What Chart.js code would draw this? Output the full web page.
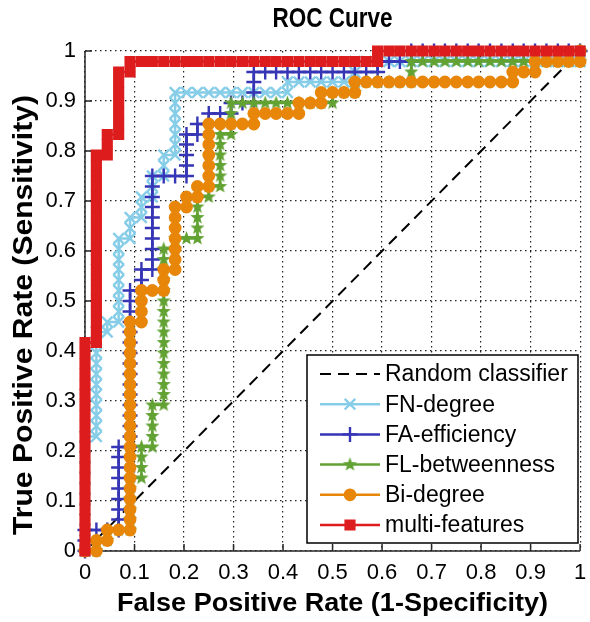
<!DOCTYPE html>
<html>
<head>
<meta charset="utf-8">
<title>ROC Curve</title>
<script src="https://cdn.jsdelivr.net/npm/chart.js@4.4.1/dist/chart.umd.min.js"></script>
<style>
  html, body { margin: 0; padding: 0; background: #fff; }
  #wrap { width: 590px; height: 622px; }
</style>
</head>
<body>
<div id="wrap"><canvas id="rocChart" width="590" height="622"></canvas></div>
<script>
// Values: [false positive rate, true positive rate]
const seriesNames = ['Random classifier', 'FN-degree', 'FA-efficiency', 'FL-betweenness', 'Bi-degree', 'multi-features'];
const tickValues = [0, 0.1, 0.2, 0.3, 0.4, 0.5, 0.6, 0.7, 0.8, 0.9, 1];
const tickLabels = ['0', '0.1', '0.2', '0.3', '0.4', '0.5', '0.6', '0.7', '0.8', '0.9', '1'];

const randomClassifier = [[0, 0], [1, 1]];

const fnDegree = [
    [0,0],[0,.021],[0,.042],[0,.063],[0,.083],[0,.104],[0,.125],[0,.146],[0,.167],[0,.188],[0,.208],[0,.229],
    [.023,.229],[.023,.25],[.023,.271],[.023,.292],[.023,.313],[.023,.333],[.023,.354],[.023,.375],[.023,.396],[.023,.417],[.023,.438],
    [.045,.438],[.045,.458],
    [.068,.458],[.068,.479],[.068,.5],[.068,.521],[.068,.542],[.068,.563],[.068,.583],[.068,.604],[.068,.625],
    [.091,.625],[.091,.646],[.091,.667],
    [.114,.667],[.114,.688],[.114,.708],
    [.136,.708],[.136,.729],[.136,.75],
    [.159,.75],[.159,.771],[.159,.792],
    [.182,.792],[.182,.813],[.182,.833],[.182,.854],[.182,.875],[.182,.896],[.182,.917],
    [.205,.917],[.227,.917],[.25,.917],[.273,.917],[.295,.917],[.318,.917],[.341,.917],[.364,.917],[.386,.917],[.409,.917],
    [.409,.938],[.432,.938],[.455,.938],[.477,.938],[.5,.938],[.523,.938],[.545,.938],
    [.545,.958],[.545,.979],[.568,.979],[.591,.979],[.614,.979],[.636,.979],[.659,.979],[.682,.979],[.705,.979],[.727,.979],
    [.75,.979],[.773,.979],[.795,.979],[.818,.979],[.841,.979],[.864,.979],[.886,.979],[.909,.979],[.932,.979],[.955,.979],
    [.977,.979],[1,.979],[1,1]
];

const faEfficiency = [
    [0,0],[0,.021],[0,.042],[.023,.042],[.045,.042],[.068,.042],
    [.068,.063],[.068,.083],[.068,.104],[.068,.125],[.068,.146],[.068,.167],[.068,.188],[.068,.208],
    [.091,.208],[.091,.229],[.091,.25],[.091,.271],[.091,.292],[.091,.313],[.091,.333],[.091,.354],[.091,.375],[.091,.396],
    [.091,.417],[.091,.438],[.091,.458],[.091,.479],[.091,.5],[.091,.521],
    [.114,.521],[.114,.542],[.114,.563],
    [.136,.563],[.136,.583],[.136,.604],[.136,.625],[.136,.646],[.136,.667],[.136,.688],[.136,.708],[.136,.729],[.136,.75],
    [.159,.75],[.182,.75],[.205,.75],[.205,.771],[.205,.792],[.205,.813],[.205,.833],
    [.227,.833],[.227,.854],[.25,.854],[.25,.875],[.273,.875],[.295,.875],[.295,.896],[.318,.896],[.341,.896],
    [.341,.917],[.341,.938],[.341,.958],
    [.364,.958],[.386,.958],[.409,.958],[.432,.958],[.455,.958],[.477,.958],[.5,.958],[.523,.958],[.545,.958],[.568,.958],[.591,.958],
    [.591,.979],[.614,.979],[.636,.979],[.659,.979],
    [.659,1],[.682,1],[.705,1],[.727,1],[.75,1],[.773,1],[.795,1],[.818,1],[.841,1],[.864,1],[.886,1],[.909,1],[.932,1],[.955,1],[.977,1],[1,1]
];

const flBetweenness = [
    [0,0],[.023,0],[.023,.021],[.045,.021],[.045,.042],[.068,.042],[.091,.042],
    [.091,.063],[.091,.083],[.091,.104],[.091,.125],[.091,.146],
    [.114,.146],[.114,.167],[.114,.188],[.114,.208],
    [.136,.208],[.136,.229],[.136,.25],[.136,.271],[.136,.292],
    [.159,.292],[.159,.313],[.159,.333],[.159,.354],[.159,.375],[.159,.396],[.159,.417],[.159,.438],[.159,.458],[.159,.479],
    [.159,.5],[.159,.521],[.159,.542],[.159,.563],[.159,.583],[.159,.604],
    [.182,.604],[.182,.625],[.205,.625],[.227,.625],
    [.227,.646],[.227,.667],[.227,.688],[.227,.708],
    [.25,.708],[.25,.729],[.273,.729],
    [.273,.75],[.273,.771],[.273,.792],[.273,.813],[.273,.833],
    [.295,.833],[.295,.854],[.295,.875],[.295,.896],
    [.318,.896],[.341,.896],[.364,.896],[.386,.896],[.409,.896],[.432,.896],[.455,.896],[.477,.896],[.5,.896],
    [.5,.917],[.523,.917],[.545,.917],[.545,.938],[.568,.938],[.591,.938],[.614,.938],[.636,.938],[.659,.938],
    [.659,.958],[.659,.979],[.682,.979],[.705,.979],[.727,.979],[.75,.979],[.773,.979],[.795,.979],[.818,.979],
    [.841,.979],[.864,.979],[.886,.979],[.909,.979],[.932,.979],[.955,.979],[.977,.979],[1,.979],[1,1]
];

const biDegree = [
    [0,0],[.023,0],[.023,.021],[.045,.021],[.045,.042],[.068,.042],[.091,.042],
    [.091,.063],[.091,.083],[.091,.104],[.091,.125],[.091,.146],[.091,.167],[.091,.188],[.091,.208],[.091,.229],[.091,.25],
    [.091,.271],[.091,.292],[.091,.313],[.091,.333],[.091,.354],[.091,.375],[.091,.396],[.091,.417],[.091,.438],[.091,.458],
    [.114,.458],[.114,.479],[.114,.5],[.114,.521],
    [.136,.521],[.159,.521],[.159,.542],[.159,.563],
    [.182,.563],[.182,.583],[.182,.604],[.182,.625],[.182,.646],[.182,.667],[.182,.688],
    [.205,.688],[.205,.708],[.227,.708],[.227,.729],[.25,.729],
    [.25,.75],[.25,.771],[.25,.792],[.25,.813],[.25,.833],[.25,.854],
    [.273,.854],[.295,.854],[.318,.854],[.341,.854],
    [.341,.875],[.364,.875],[.386,.875],[.409,.875],[.432,.875],
    [.432,.896],[.455,.896],[.477,.896],[.477,.917],[.5,.917],[.523,.917],[.545,.917],
    [.545,.938],[.568,.938],[.591,.938],[.614,.938],[.636,.938],[.659,.938],[.682,.938],[.705,.938],[.727,.938],
    [.75,.938],[.773,.938],[.795,.938],[.818,.938],[.841,.938],[.864,.938],
    [.864,.958],[.886,.958],[.909,.958],[.909,.979],[.932,.979],[.955,.979],[.977,.979],[1,.979],[1,1]
];

const multiFeatures = [
    [0,0],[0,.021],[0,.042],[0,.063],[0,.083],[0,.104],[0,.125],[0,.146],[0,.167],[0,.188],[0,.208],
    [0,.229],[0,.25],[0,.271],[0,.292],[0,.313],[0,.333],[0,.354],[0,.375],[0,.396],[0,.417],
    [.023,.417],[.023,.438],[.023,.458],[.023,.479],[.023,.5],[.023,.521],[.023,.542],[.023,.563],[.023,.583],[.023,.604],
    [.023,.625],[.023,.646],[.023,.667],[.023,.688],[.023,.708],[.023,.729],[.023,.75],[.023,.771],[.023,.792],
    [.045,.792],[.045,.813],[.045,.833],
    [.068,.833],[.068,.854],[.068,.875],[.068,.896],[.068,.917],[.068,.938],[.068,.958],
    [.091,.958],[.091,.979],
    [.114,.979],[.136,.979],[.159,.979],[.182,.979],[.205,.979],[.227,.979],[.25,.979],[.273,.979],[.295,.979],[.318,.979],
    [.341,.979],[.364,.979],[.386,.979],[.409,.979],[.432,.979],[.455,.979],[.477,.979],[.5,.979],[.523,.979],[.545,.979],
    [.568,.979],[.591,.979],
    [.591,1],[.614,1],[.636,1],[.659,1],[.682,1],[.705,1],[.727,1],[.75,1],[.773,1],[.795,1],[.818,1],
    [.841,1],[.864,1],[.886,1],[.909,1],[.932,1],[.955,1],[.977,1],[1,1]
];

const FONT = '"Liberation Sans", Arial, Helvetica, sans-serif';

// filled five-point star like MATLAB's pentagram marker
function makePentagram(color, r) {
    const c = document.createElement('canvas');
    const s = Math.ceil(r * 2 + 2);
    c.width = s; c.height = s;
    const g = c.getContext('2d');
    g.fillStyle = color;
    g.beginPath();
    for (let i = 0; i < 10; i++) {
        const rad = i % 2 === 0 ? r : r * 0.42;
        const a = -Math.PI / 2 + i * Math.PI / 5;
        const px = s / 2 + rad * Math.cos(a), py = s / 2 + rad * Math.sin(a);
        if (i === 0) g.moveTo(px, py); else g.lineTo(px, py);
    }
    g.closePath();
    g.fill();
    return c;
}

function toPoints(arr) {
    return arr.map(p => ({ x: p[0], y: p[1] }));
}

function series(label, data, color, style, radius, order) {
    return {
        label: label,
        data: toPoints(data),
        borderColor: color,
        backgroundColor: color,
        borderWidth: 2.5,
        pointStyle: style,
        pointRadius: radius,
        pointBorderWidth: 2.4,
        pointBorderColor: color,
        pointBackgroundColor: color,
        pointHoverRadius: radius,
        order: order,
        clip: false
    };
}

const greenStar = makePentagram('#62a233', 7.5);

const datasets = [
    {
        label: seriesNames[0],
        data: toPoints(randomClassifier),
        borderColor: '#000',
        borderWidth: 2,
        borderDash: [11, 7],
        pointRadius: 0,
        order: 5,
        clip: false
    },
    series(seriesNames[1], fnDegree, '#86cde8', 'crossRot', 7.5, 4),
    series(seriesNames[2], faEfficiency, '#3535b5', 'cross', 7.5, 3),
    series(seriesNames[3], flBetweenness, '#62a233', greenStar, 7, 2),
    series(seriesNames[4], biDegree, '#e8860a', 'circle', 5.2, 1),
    series(seriesNames[5], multiFeatures, '#dd1d1d', 'rect', 6.2, 0)
];

function drawMarker(ctx, ds, x, y) {
    ctx.save();
    ctx.fillStyle = ds.backgroundColor || ds.borderColor;
    ctx.strokeStyle = ds.borderColor;
    ctx.lineWidth = ds.pointBorderWidth || 2;
    if (ds.pointStyle instanceof HTMLCanvasElement) {
        const w = ds.pointStyle.width;
        ctx.drawImage(ds.pointStyle, x - w / 2, y - w / 2);
    } else {
        Chart.helpers.drawPoint(ctx, {
            pointStyle: ds.pointStyle, rotation: 0, radius: ds.pointRadius, borderWidth: ctx.lineWidth
        }, x, y);
    }
    ctx.restore();
}

// draws a label at a given font size, squeezed or stretched to the width it has in the figure
function fitText(ctx, text, x, y, size, width, angle) {
    ctx.save();
    ctx.font = 'bold ' + size + 'px ' + FONT;
    const w = ctx.measureText(text).width;
    ctx.translate(x, y);
    ctx.rotate(angle || 0);
    ctx.scale(width / w, 1);
    ctx.fillText(text, 0, 0);
    ctx.restore();
}

const frame = {
    id: 'frame',
    beforeDatasetsDraw(chart) {
        const { ctx, chartArea: a, scales } = chart;
        ctx.save();
        ctx.strokeStyle = '#262626';
        ctx.lineWidth = 1.5;
        ctx.beginPath();
        ctx.moveTo(a.left, a.top);
        ctx.lineTo(a.left, a.bottom);
        ctx.lineTo(a.right, a.bottom);
        tickValues.forEach(v => {
            const px = scales.x.getPixelForValue(v);
            ctx.moveTo(px, a.bottom);
            ctx.lineTo(px, a.bottom - 7);
            const py = scales.y.getPixelForValue(v);
            ctx.moveTo(a.left, py);
            ctx.lineTo(a.left + 7, py);
        });
        ctx.stroke();
        ctx.restore();
    },
    afterDraw(chart) {
        const { ctx, chartArea: a } = chart;
        const cx = (a.left + a.right) / 2;
        ctx.save();
        ctx.fillStyle = '#000';
        ctx.textAlign = 'center';
        ctx.textBaseline = 'middle';

        fitText(ctx, 'ROC Curve', cx, 19, 28, 120);
        fitText(ctx, 'False Positive Rate (1-Specificity)', cx, 604, 25, 431);
        fitText(ctx, 'True Positive Rate (Sensitivity)', 25, (a.top + a.bottom) / 2 + 14, 27, 440, -Math.PI / 2);

        // legend box
        const bx = 307, by = 355, bw = 271, bh = 188;
        ctx.fillStyle = '#fff';
        ctx.fillRect(bx, by, bw, bh);
        ctx.strokeStyle = '#000';
        ctx.lineWidth = 1.5;
        ctx.strokeRect(bx, by, bw, bh);

        ctx.font = '23px ' + FONT;
        ctx.textAlign = 'left';
        chart.data.datasets.forEach((ds, i) => {
            const ry = 374 + i * 30.2;
            ctx.save();
            ctx.strokeStyle = ds.borderColor;
            ctx.lineWidth = ds.borderWidth;
            ctx.setLineDash(ds.borderDash || []);
            ctx.beginPath();
            ctx.moveTo(320, ry);
            ctx.lineTo(380, ry);
            ctx.stroke();
            ctx.restore();
            if (ds.pointRadius > 0) drawMarker(ctx, ds, 350, ry);
            ctx.fillStyle = '#000';
            ctx.fillText(ds.label, 385, ry + 1);
        });
        ctx.restore();
    }
};

new Chart(document.getElementById('rocChart'), {
    type: 'line',
    data: { datasets: datasets },
    options: {
        responsive: false,
        animation: false,
        events: [],
        layout: { padding: { top: 51, right: 3, left: 0, bottom: 0 } },
        plugins: {
            legend: { display: false },
            title: { display: false },
            tooltip: { enabled: false }
        },
        elements: { line: { tension: 0 } },
        scales: {
            x: {
                type: 'linear',
                min: 0,
                max: 1,
                afterFit: scale => {
                    scale.height = 71;
                    scale.paddingLeft = 0;
                    scale.paddingRight = 0;
                },
                afterBuildTicks: scale => { scale.ticks = tickValues.map(v => ({ value: v })); },
                ticks: {
                    callback: (v, i) => tickLabels[i],
                    color: '#000',
                    padding: 9,
                    maxRotation: 0,
                    autoSkip: false,
                    font: { family: FONT, size: 22 }
                },
                grid: { color: '#222', lineWidth: 1.2, drawTicks: false },
                border: { display: false, dash: [1.5, 3.5] }
            },
            y: {
                type: 'linear',
                min: 0,
                max: 1,
                afterFit: scale => {
                    scale.width = 85;
                    scale.paddingTop = 0;
                    scale.paddingBottom = 0;
                },
                afterBuildTicks: scale => { scale.ticks = tickValues.map(v => ({ value: v })); },
                ticks: {
                    callback: (v, i) => tickLabels[i],
                    color: '#000',
                    padding: 9,
                    autoSkip: false,
                    font: { family: FONT, size: 22 }
                },
                grid: { color: '#222', lineWidth: 1.2, drawTicks: false },
                border: { display: false, dash: [1.5, 3.5] }
            }
        }
    },
    plugins: [frame]
});
</script>
</body>
</html>
